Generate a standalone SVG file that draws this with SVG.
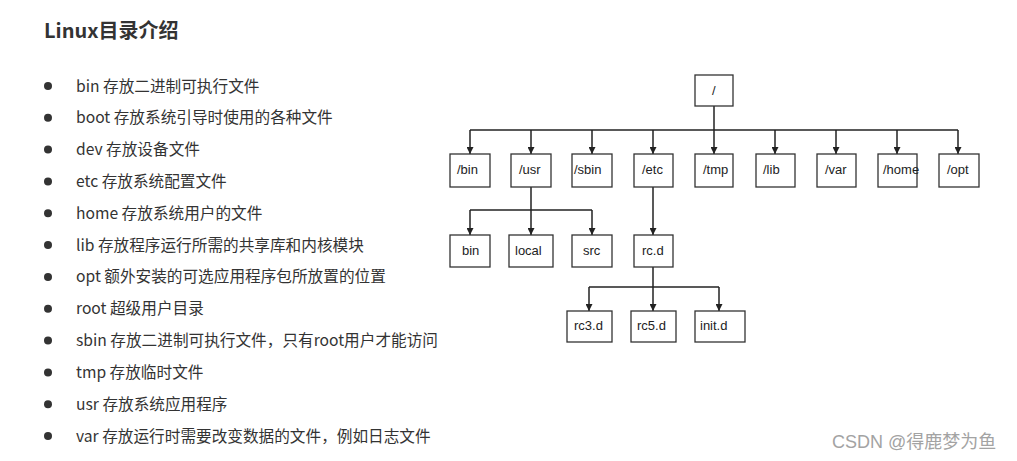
<svg xmlns="http://www.w3.org/2000/svg" width="1017" height="461" viewBox="0 0 1017 461">
<style>
.bg{fill:#ffffff}
.title{font-family:"Noto Sans CJK SC","Noto Sans",sans-serif;font-size:20px;font-weight:bold;fill:#333333}
.item{font-family:"Noto Sans CJK SC","Noto Sans",sans-serif;font-size:15.65px;fill:#333333}
.dot{fill:#333333}
.box{fill:#ffffff;stroke:#333333;stroke-width:1.3}
.lbl{font-family:"Liberation Sans",Arial,sans-serif;font-size:13px;fill:#222222}
.conn{fill:none;stroke:#222222;stroke-width:1.5}
.wm{font-family:"Liberation Sans","Noto Sans CJK SC",sans-serif;font-size:18px;fill:#a3a3a3}
</style>
<defs>
<marker id="arr" viewBox="0 0 7 7" refX="7" refY="3.5" markerWidth="7" markerHeight="7" markerUnits="userSpaceOnUse" orient="auto">
<path d="M0,0 L7,3.5 L0,7 z" fill="#222222"/>
</marker>
</defs>
<rect class="bg" x="0" y="0" width="1017" height="461"/>

<g id="title"><text class="title" x="44" y="38">Linux目录介绍</text></g>

<g id="list">
<circle class="dot" cx="48" cy="86" r="4"/><text class="item" x="76" y="91.5">bin 存放二进制可执行文件</text>
<circle class="dot" cx="48" cy="117.8" r="4"/><text class="item" x="76" y="123.3">boot 存放系统引导时使用的各种文件</text>
<circle class="dot" cx="48" cy="149.6" r="4"/><text class="item" x="76" y="155.1">dev 存放设备文件</text>
<circle class="dot" cx="48" cy="181.5" r="4"/><text class="item" x="76" y="187">etc 存放系统配置文件</text>
<circle class="dot" cx="48" cy="213.3" r="4"/><text class="item" x="76" y="218.8">home 存放系统用户的文件</text>
<circle class="dot" cx="48" cy="245.1" r="4"/><text class="item" x="76" y="250.6">lib 存放程序运行所需的共享库和内核模块</text>
<circle class="dot" cx="48" cy="276.9" r="4"/><text class="item" x="76" y="282.4">opt 额外安装的可选应用程序包所放置的位置</text>
<circle class="dot" cx="48" cy="308.7" r="4"/><text class="item" x="76" y="314.2">root 超级用户目录</text>
<circle class="dot" cx="48" cy="340.5" r="4"/><text class="item" x="76" y="346">sbin 存放二进制可执行文件，只有root用户才能访问</text>
<circle class="dot" cx="48" cy="372.4" r="4"/><text class="item" x="76" y="377.9">tmp 存放临时文件</text>
<circle class="dot" cx="48" cy="404.2" r="4"/><text class="item" x="76" y="409.7">usr 存放系统应用程序</text>
<circle class="dot" cx="48" cy="436" r="4"/><text class="item" x="76" y="441.5">var 存放运行时需要改变数据的文件，例如日志文件</text>
</g>

<g id="connectors">
<path class="conn" d="M714,106 V130"/>
<path class="conn" d="M470,130 H958"/>
<path class="conn" d="M470,130 V154" marker-end="url(#arr)"/>
<path class="conn" d="M531,130 V154" marker-end="url(#arr)"/>
<path class="conn" d="M592,130 V154" marker-end="url(#arr)"/>
<path class="conn" d="M653,130 V154" marker-end="url(#arr)"/>
<path class="conn" d="M714,130 V154" marker-end="url(#arr)"/>
<path class="conn" d="M775,130 V154" marker-end="url(#arr)"/>
<path class="conn" d="M836,130 V154" marker-end="url(#arr)"/>
<path class="conn" d="M897,130 V154" marker-end="url(#arr)"/>
<path class="conn" d="M958,130 V154" marker-end="url(#arr)"/>
<path class="conn" d="M531,187 V210"/>
<path class="conn" d="M470,210 H592"/>
<path class="conn" d="M470,210 V235" marker-end="url(#arr)"/>
<path class="conn" d="M531,210 V235" marker-end="url(#arr)"/>
<path class="conn" d="M592,210 V235" marker-end="url(#arr)"/>
<path class="conn" d="M653,187 V235" marker-end="url(#arr)"/>
<path class="conn" d="M653,267 V287"/>
<path class="conn" d="M589,287 H719"/>
<path class="conn" d="M589,287 V311" marker-end="url(#arr)"/>
<path class="conn" d="M653,287 V311" marker-end="url(#arr)"/>
<path class="conn" d="M719,287 V311" marker-end="url(#arr)"/>
</g>

<g id="n-root"><rect class="box" x="695" y="75" width="38" height="31"/><text class="lbl" x="712" y="95">/</text></g>
<g id="n-bin"><rect class="box" x="450" y="154" width="40" height="33"/><text class="lbl" x="457" y="174">/bin</text></g>
<g id="n-usr"><rect class="box" x="511" y="154" width="40" height="33"/><text class="lbl" x="519" y="174">/usr</text></g>
<g id="n-sbin"><rect class="box" x="572" y="154" width="40" height="33"/><text class="lbl" x="574" y="174">/sbin</text></g>
<g id="n-etc"><rect class="box" x="634" y="154" width="39" height="33"/><text class="lbl" x="642" y="174">/etc</text></g>
<g id="n-tmp"><rect class="box" x="695" y="154" width="38" height="33"/><text class="lbl" x="703" y="174">/tmp</text></g>
<g id="n-lib"><rect class="box" x="756" y="154" width="39" height="33"/><text class="lbl" x="763" y="174">/lib</text></g>
<g id="n-var"><rect class="box" x="817" y="154" width="39" height="33"/><text class="lbl" x="825" y="174">/var</text></g>
<g id="n-home"><rect class="box" x="878" y="154" width="39" height="33"/><text class="lbl" x="883" y="174">/home</text></g>
<g id="n-opt"><rect class="box" x="939" y="154" width="40" height="33"/><text class="lbl" x="947" y="174">/opt</text></g>
<g id="n-usr-bin"><rect class="box" x="450" y="235" width="40" height="32"/><text class="lbl" x="462" y="255">bin</text></g>
<g id="n-local"><rect class="box" x="509" y="235" width="44" height="32"/><text class="lbl" x="515" y="255">local</text></g>
<g id="n-src"><rect class="box" x="572" y="235" width="40" height="32"/><text class="lbl" x="583" y="255">src</text></g>
<g id="n-rcd"><rect class="box" x="634" y="235" width="39" height="32"/><text class="lbl" x="642" y="255">rc.d</text></g>
<g id="n-rc3d"><rect class="box" x="567" y="311" width="45" height="31"/><text class="lbl" x="574" y="330">rc3.d</text></g>
<g id="n-rc5d"><rect class="box" x="631" y="311" width="45" height="31"/><text class="lbl" x="637" y="330">rc5.d</text></g>
<g id="n-initd"><rect class="box" x="695" y="311" width="50" height="31"/><text class="lbl" x="700" y="330">init.d</text></g>

<g id="watermark"><text class="wm" x="832" y="448">CSDN @得鹿梦为鱼</text></g>
</svg>
